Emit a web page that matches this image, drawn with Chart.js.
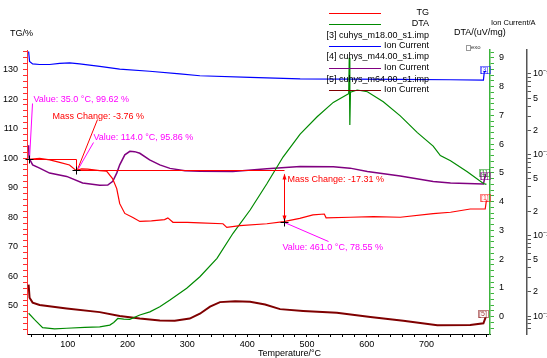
<!DOCTYPE html>
<html>
<head>
<meta charset="utf-8">
<script src="https://cdn.jsdelivr.net/npm/chart.js@4.4.0/dist/chart.umd.min.js"></script>
<style>
  html, body { margin: 0; padding: 0; background: #fff; }
  canvas { display: block; }
</style>
</head>
<body>
<canvas id="chart" width="547" height="358"></canvas>
<script>
// TG curve (%)
const tgTemp = [35, 53, 70, 86.6, 103, 114, 123.5, 133.5, 153.6, 165, 175, 182, 187, 195.5, 209, 220.6, 240, 262, 267.5, 276, 300, 321, 359.6, 366, 388, 433, 461, 488, 510, 529, 532, 572, 611, 656, 711, 740, 773, 798, 800];
const tgValue = [99.62, 99.9, 99.4, 98.6, 97.7, 95.86, 96.4, 96.3, 95.8, 95.6, 93.1, 89.7, 84.6, 81.3, 79.9, 78.6, 78.8, 79.2, 79.8, 78.3, 78.3, 78.1, 77.8, 76.6, 77.2, 77.8, 78.55, 79.6, 80.8, 81.1, 79.8, 80.0, 80.2, 80.0, 81.2, 81.7, 82.8, 82.8, 85.7];

// DTA curve (uV/mg)
const dtaTemp = [34.7, 44.7, 58.1, 78.2, 98.3, 128.5, 153.6, 170.4, 177, 183.8, 193.8, 203.9, 220.6, 237.4, 254, 271, 299, 321, 349.6, 376.4, 405, 433, 460, 488.6, 517, 544, 567.3, 569.8, 570.7, 571.7, 572.7, 584, 601, 627.6, 656, 684.6, 711, 723, 740, 768, 795, 800];
const dtaValue = [0.12, -0.10, -0.38, -0.42, -0.40, -0.37, -0.35, -0.29, -0.20, -0.06, -0.08, -0.09, 0.06, 0.17, 0.35, 0.58, 0.99, 1.39, 2.03, 2.90, 3.71, 4.62, 5.55, 6.35, 6.95, 7.45, 7.72, 7.75, 9.0, 6.66, 7.80, 7.88, 7.82, 7.47, 6.98, 6.40, 5.93, 5.60, 5.42, 5.04, 4.63, 4.60];

// ion currents (A)
const m18Temp = [34.7, 36.3, 41.4, 53.1, 69.8, 86.6, 103.4, 120, 153.6, 187, 237, 287.6, 321, 405, 488.6, 572, 656, 740, 795, 796.5, 800];
const m18Value = [1.90e-9, 1.43e-9, 1.33e-9, 1.31e-9, 1.31e-9, 1.35e-9, 1.37e-9, 1.33e-9, 1.24e-9, 1.15e-9, 1.08e-9, 1.0e-9, 9.5e-10, 9.05e-10, 8.67e-10, 8.63e-10, 8.55e-10, 8.48e-10, 8.38e-10, 1.07e-9, 1.07e-9];
const m44Temp = [34.7, 35.5, 41.4, 53.1, 69.8, 98.3, 125, 153.6, 167, 175.4, 182, 187, 195.5, 204, 212, 220.6, 237, 254, 271, 296, 321, 376, 433, 488.6, 544, 572, 601, 656, 711, 740, 795, 798.5];
const m44Value = [1.31e-10, 9.06e-11, 7.48e-11, 6.81e-11, 5.91e-11, 5.38e-11, 4.45e-11, 4.17e-11, 4.2e-11, 4.67e-11, 5.91e-11, 7.48e-11, 9.95e-11, 1.10e-10, 1.09e-10, 1.04e-10, 8.63e-11, 7.48e-11, 6.76e-11, 6.34e-11, 6.25e-11, 6.2e-11, 6.68e-11, 7.15e-11, 7.1e-11, 6.81e-11, 6.2e-11, 5.43e-11, 4.65e-11, 4.45e-11, 4.32e-11, 5.74e-11];
const m64Temp = [34.7, 36.3, 41.4, 53.1, 98.3, 153.6, 187, 220.6, 254, 279, 304, 321, 338, 354.6, 380, 405, 430, 455, 493.6, 550, 606, 661, 718, 773, 795, 798.5];
const m64Value = [2.45e-12, 1.69e-12, 1.47e-12, 1.37e-12, 1.24e-12, 1.12e-12, 1.0e-12, 9.31e-13, 8.8e-13, 8.74e-13, 9.31e-13, 1.07e-12, 1.31e-12, 1.49e-12, 1.53e-12, 1.51e-12, 1.39e-12, 1.22e-12, 1.16e-12, 1.10e-12, 9.77e-13, 8.73e-13, 7.70e-13, 7.77e-13, 8.15e-13, 9.57e-13];

// tick labels
const tempLabels = [100, 200, 300, 400, 500, 600, 700];
const tgLabels = [50, 60, 70, 80, 90, 100, 110, 120, 130];
const dtaLabels = [0, 1, 2, 3, 4, 5, 6, 7, 8, 9];
const ionDecades = [-13, -12, -11, -10, -9, -8];

// evaluation points on the TG curve
const markTemp = [35.0, 114.0, 461.0];
const markTG = [99.62, 95.86, 78.55];
const massChange = [-3.76, -17.31];

const legendNames = ["TG", "DTA", "[3] cuhys_m18.00_s1.imp", "[4] cuhys_m44.00_s1.imp", "[5] cuhys_m64.00_s1.imp"];
const seriesColors = ["#ff0000", "#008a00", "#0000ff", "#800080", "#7f0000"];

const FONT = '"Liberation Sans", Arial, sans-serif';

function toPoints(xs, ys) {
  return xs.map((x, i) => ({ x: x, y: ys[i] }));
}

// log axis ticks: 1..9 x 10^n
const ionMin = Math.pow(10, -12.19);
const ionMax = 1.98e-9;
const ionTicks = [];
ionDecades.forEach(function (e) {
  for (let m = 1; m <= 9; m++) {
    const v = parseFloat(m + "e" + e);
    if (v >= ionMin && v <= ionMax) ionTicks.push({ value: v });
  }
});

const sup = { "-": "\u207b", "0": "\u2070", "1": "\u00b9", "2": "\u00b2", "3": "\u00b3", "4": "\u2074", "5": "\u2075", "6": "\u2076", "7": "\u2077", "8": "\u2078", "9": "\u2079" };
function ionLabel(v) {
  const e = Math.floor(Math.log10(v) + 1e-9);
  const m = Math.round(v / Math.pow(10, e));
  if (m === 1) return "10" + String(e).split("").map(c => sup[c]).join("");
  if (m === 2 || m === 5) return String(m);
  return "";
}

const drawExtras = {
  id: "drawExtras",
  afterDatasetsDraw(chart) {
    const ctx = chart.ctx;
    const sx = chart.scales.x, sy = chart.scales.y;
    const px = t => sx.getPixelForValue(t);
    const py = v => sy.getPixelForValue(v);
    const line = (a, b, c, d) => { ctx.beginPath(); ctx.moveTo(a, b); ctx.lineTo(c, d); ctx.stroke(); };
    ctx.save();
    ctx.font = "9px " + FONT;
    ctx.textBaseline = "middle";
    ctx.textAlign = "left";

    const x0 = Math.round(px(markTemp[0])) + 0.5, y0 = Math.round(py(markTG[0])) + 0.5;
    const x1 = Math.round(px(markTemp[1])) + 0.5, y1 = Math.round(py(markTG[1])) + 0.5;
    const x2 = Math.round(px(markTemp[2])) + 0.5, y2 = Math.round(py(markTG[2])) + 0.5;

    // mass change construction lines
    ctx.strokeStyle = "#ff0000";
    ctx.lineWidth = 1;
    line(x0, y0, x1, y0);
    line(x1, y0, x1, y1);
    line(x1, y1, x2, y1);
    line(x2, y1 + 4, x2, y2 - 1);
    ctx.fillStyle = "#ff0000";
    ctx.beginPath(); ctx.moveTo(x2, y1 + 3); ctx.lineTo(x2 - 2, y1 + 9); ctx.lineTo(x2 + 2, y1 + 9); ctx.closePath(); ctx.fill();
    ctx.beginPath(); ctx.moveTo(x2, y2 - 1); ctx.lineTo(x2 - 2, y2 - 7); ctx.lineTo(x2 + 2, y2 - 7); ctx.closePath(); ctx.fill();

    // leaders
    line(x1 + 1, y1 - 1, x1 + 21, y1 - 51);
    ctx.strokeStyle = "#ff00ff";
    line(x0, y0, x0 + 3, y0 - 56);
    line(x1 + 2, y1 - 2, x1 + 17, y1 - 28);
    line(x2, y2, x2 + 44, y2 + 19);

    // crosshairs
    ctx.strokeStyle = "#000";
    [[x0, y0], [x1, y1], [x2, y2]].forEach(function (p) {
      line(p[0] - 4, p[1], p[0] + 4, p[1]);
      line(p[0], p[1] - 4, p[0], p[1] + 4);
    });

    // texts
    const valueText = i => "Value: " + markTemp[i].toFixed(1) + " \u00b0C, " + markTG[i].toFixed(2) + " %";
    const massText = i => "Mass Change: " + massChange[i].toFixed(2) + " %";
    ctx.fillStyle = "#ff00ff";
    ctx.fillText(valueText(0), x0 + 4, y0 - 60);
    ctx.fillText(valueText(1), x1 + 17, y1 - 33);
    ctx.fillText(valueText(2), x2 - 2, y2 + 25);
    ctx.fillStyle = "#ff0000";
    ctx.fillText(massText(0), x1 - 24, y1 - 54);
    ctx.fillText(massText(1), x2 + 3, y1 + 9);

    // end tags of the curves
    const tags = [
      { ds: 2, text: "[3]", dx: -2, dy: -2 },
      { ds: 1, text: "[1]", dx: -3, dy: -11 },
      { ds: 3, text: "[4]", dx: -1, dy: 1.5 },
      { ds: 0, text: "[1]", dx: -1.5, dy: -2 },
      { ds: 4, text: "[5]", dx: -2.5, dy: -4 }
    ];
    ctx.font = "7px " + FONT;
    ctx.textAlign = "center";
    tags.forEach(function (t) {
      const meta = chart.getDatasetMeta(t.ds);
      const last = meta.data[meta.data.length - 1];
      const cx = last.x + t.dx, cy = last.y + t.dy;
      const w = ctx.measureText(t.text).width + 2;
      ctx.globalAlpha = 0.5;
      ctx.strokeStyle = seriesColors[t.ds];
      ctx.strokeRect(Math.round(cx - w / 2) + 0.5, Math.round(cy - 4) + 0.5, Math.round(w), 7);
      ctx.globalAlpha = 0.8;
      ctx.fillStyle = seriesColors[t.ds];
      ctx.fillText(t.text, cx, cy);
      ctx.globalAlpha = 1;
    });

    // legend
    ctx.font = "9px " + FONT;
    ctx.textAlign = "right";
    ctx.fillStyle = "#000";
    const rows = [
      { y: 13, color: seriesColors[0], text: legendNames[0] },
      { y: 24, color: seriesColors[1], text: legendNames[1] },
      { y: 35.5, text: legendNames[2] },
      { y: 46, color: seriesColors[2], text: "Ion Current" },
      { y: 57, text: legendNames[3] },
      { y: 68, color: seriesColors[3], text: "Ion Current" },
      { y: 79.5, text: legendNames[4] },
      { y: 90, color: seriesColors[4], text: "Ion Current" }
    ];
    rows.forEach(function (r) {
      if (r.color) {
        ctx.strokeStyle = r.color;
        ctx.lineWidth = 1;
        line(329, Math.round(r.y) + 0.5, 381, Math.round(r.y) + 0.5);
      }
      ctx.fillText(r.text, 429, r.y);
    });

    // axis titles
    ctx.textAlign = "left";
    ctx.fillText("TG/%", 10, 33.5);
    ctx.fillText("DTA/(uV/mg)", 454, 33);
    ctx.fillText("Temperature/\u00b0C", 258, 353.5);
    ctx.font = "7.5px " + FONT;
    ctx.fillText("Ion Current/A", 491, 23);
    ctx.font = "6px " + FONT;
    ctx.fillStyle = "#333";
    ctx.fillText("exo", 471, 47.5);
    ctx.strokeStyle = "#999";
    ctx.strokeRect(466.5, 45.5, 4, 5);
    ctx.restore();
  }
};

Chart.defaults.font.family = FONT;
Chart.defaults.font.size = 9;
Chart.defaults.color = "#000";

const data = {
  datasets: [
    { label: "TG", data: toPoints(tgTemp, tgValue), yAxisID: "y", borderColor: seriesColors[0], borderWidth: 1.2 },
    { label: "DTA", data: toPoints(dtaTemp, dtaValue), yAxisID: "yDTA", borderColor: seriesColors[1], borderWidth: 1.2 },
    { label: "m18", data: toPoints(m18Temp, m18Value), yAxisID: "yIon", borderColor: seriesColors[2], borderWidth: 1.2 },
    { label: "m44", data: toPoints(m44Temp, m44Value), yAxisID: "yIon", borderColor: seriesColors[3], borderWidth: 1.5 },
    { label: "m64", data: toPoints(m64Temp, m64Value), yAxisID: "yIon", borderColor: seriesColors[4], borderWidth: 2 }
  ]
};

const config = {
  type: "line",
  data: data,
  options: {
    responsive: false,
    animation: false,
    devicePixelRatio: 1,
    layout: { padding: { top: 50, left: 0, right: 0, bottom: 0 } },
    elements: { point: { radius: 0 }, line: { tension: 0, fill: false } },
    plugins: { legend: { display: false }, tooltip: { enabled: false } },
    scales: {
      x: {
        type: "linear",
        position: "bottom",
        min: 32,
        max: 806,
        border: { color: "#000", width: 1 },
        grid: { drawOnChartArea: false, tickLength: 3, tickColor: "#000" },
        ticks: {
          stepSize: 20,
          autoSkip: false,
          maxRotation: 0,
          padding: 2,
          includeBounds: false,
          callback: v => (tempLabels.includes(Math.round(v)) && Math.abs(v - Math.round(v)) < 1e-6 ? String(Math.round(v)) : "")
        },
        afterFit: s => { s.height = 24; }
      },
      y: {
        type: "linear",
        position: "left",
        min: 40.5,
        max: 136.6,
        border: { color: "#ff3030", width: 1 },
        grid: { drawOnChartArea: false, tickLength: 4, tickColor: "#ff3030" },
        ticks: {
          stepSize: 2,
          autoSkip: false,
          padding: 5,
          includeBounds: false,
          callback: v => (tgLabels.some(l => Math.abs(l - v) < 1e-6) ? String(Math.round(v)) : "")
        },
        afterFit: s => { s.width = 27; }
      },
      yDTA: {
        type: "linear",
        position: "right",
        weight: 0,
        min: -0.6,
        max: 9.27,
        border: { color: "#3cb43c", width: 1.5 },
        grid: { drawOnChartArea: false, tickLength: 4, tickColor: "#3cb43c" },
        ticks: {
          stepSize: 0.2,
          autoSkip: false,
          padding: 5,
          includeBounds: false,
          callback: v => (dtaLabels.some(l => Math.abs(l - v) < 1e-6) ? String(Math.round(v)) : "")
        },
        afterFit: s => { s.width = 37; }
      },
      yIon: {
        type: "logarithmic",
        position: "right",
        weight: 1,
        min: ionMin,
        max: ionMax,
        border: { color: "#555", width: 1.5 },
        grid: { drawOnChartArea: false, tickLength: 4, tickColor: "#555" },
        ticks: { autoSkip: false, padding: 2, callback: v => ionLabel(v) },
        afterBuildTicks: s => { s.ticks = ionTicks.map(t => ({ value: t.value })); },
        afterFit: s => { s.width = 20; }
      }
    }
  },
  plugins: [drawExtras]
};

window.myChart = new Chart(document.getElementById("chart"), config);
</script>
</body>
</html>
